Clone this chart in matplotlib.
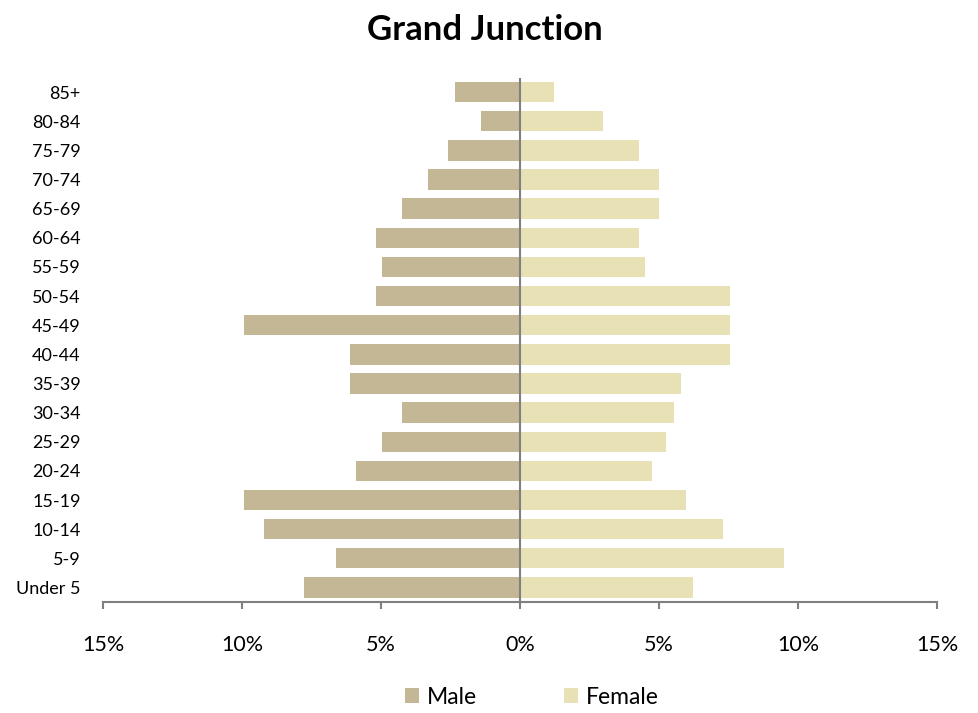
import numpy as np
import matplotlib
matplotlib.use("Agg")
import matplotlib.pyplot as plt
from matplotlib.ticker import FuncFormatter

plt.rcParams['font.family'] = ['Lato', 'DejaVu Sans']

ages = ['Under 5', '5-9', '10-14', '15-19', '20-24', '25-29', '30-34', '35-39',
        '40-44', '45-49', '50-54', '55-59', '60-64', '65-69', '70-74', '75-79',
        '80-84', '85+']
male = [7.77, 6.62, 9.21, 9.94, 5.90, 4.97, 4.24, 6.12,
        6.12, 9.94, 5.18, 4.97, 5.18, 4.24, 3.32, 2.60, 1.40, 2.34]
female = [6.23, 9.50, 7.29, 5.98, 4.75, 5.25, 5.52, 5.78,
          7.54, 7.54, 7.54, 4.49, 4.28, 5.00, 5.00, 4.28, 2.99, 1.22]

male_color = '#C4B796'
female_color = '#E8E1B6'
grey = '#808080'

fig = plt.figure(figsize=(9.79, 7.13), dpi=100)
ax = fig.add_axes([0.1052, 0.1557, 0.852, 0.7356])

y = np.arange(len(ages))
ax.barh(y, -np.array(male), height=0.7, color=male_color, label='Male')
ax.barh(y, female, height=0.7, color=female_color, label='Female')

ax.set_xlim(-15, 15)
ax.set_ylim(-0.5, len(ages) - 0.5)
ax.axvline(0, color=grey, lw=1.5)

ax.set_xticks([-15, -10, -5, 0, 5, 10, 15])
ax.xaxis.set_major_formatter(FuncFormatter(lambda v, p: f'{abs(v):.0f}%'))
ax.tick_params(axis='x', length=5, width=1.5, color=grey, pad=19, labelsize=15.5)
ax.set_yticks(y)
ax.set_yticklabels(ages)
ax.tick_params(axis='y', length=0, pad=16, labelsize=13)

for s in ['top', 'right', 'left']:
    ax.spines[s].set_visible(False)
ax.spines['bottom'].set_color(grey)
ax.spines['bottom'].set_linewidth(1.5)

fig.suptitle('Grand Junction', x=0.495, y=0.98, fontsize=25, fontweight='bold')

fig.legend(loc='center', bbox_to_anchor=(0.543, 0.022), ncol=2, frameon=False,
           fontsize=16.5, handlelength=0.6, handleheight=0.6, columnspacing=3.8,
           handletextpad=0.35)

fig.savefig('out.png', dpi=100)
